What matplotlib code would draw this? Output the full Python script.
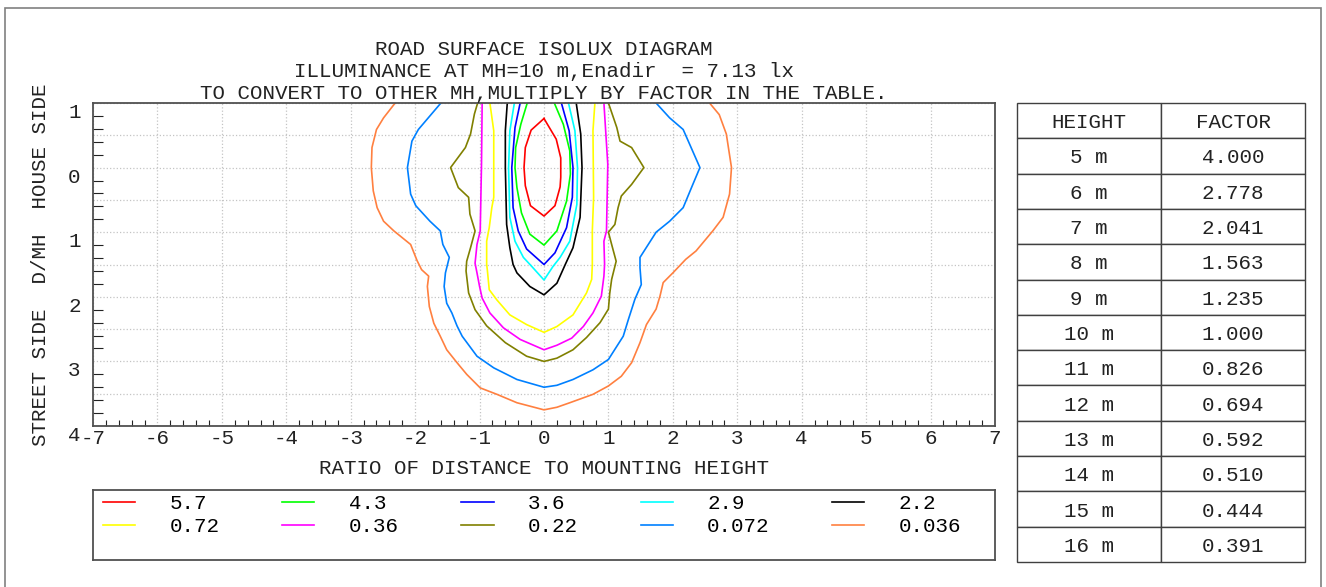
import matplotlib
matplotlib.use('Agg')
import matplotlib.pyplot as plt
from matplotlib.ticker import MultipleLocator
from matplotlib.patches import Rectangle
import numpy as np

plt.rcParams['font.family'] = ['Liberation Mono', 'DejaVu Sans Mono']
plt.rcParams['font.size'] = 15
plt.rcParams['axes.unicode_minus'] = False

# isolux levels (lx) and their line colours
levels = ['5.7', '4.3', '3.6', '2.9', '2.2', '0.72', '0.36', '0.22', '0.072', '0.036']
colors = ['#ff0000', '#00ff00', '#0000ff', '#00ffff', '#000000',
          '#ffff00', '#ff00ff', '#808000', '#0080ff', '#ff8040']

# contour traces (x = D/MH across, y = D/MH along)
red_x = [0.00, -0.20, -0.29, -0.31, -0.29, -0.21, 0.00, 0.17, 0.25, 0.26, 0.26, 0.19, 0.00]
red_y = [0.76, 0.58, 0.31, 0.00, -0.28, -0.59, -0.75, -0.59, -0.30, -0.15, 0.15, 0.44, 0.76]

green_x = [-0.26, -0.36, -0.44, -0.45, -0.42, -0.35, -0.22, 0.00, 0.20, 0.35, 0.41, 0.40, 0.30, 0.16]
green_y = [1.00, 0.67, 0.31, 0.00, -0.31, -0.70, -1.03, -1.20, -0.98, -0.52, -0.10, 0.26, 0.67, 1.00]

blue_x = [-0.37, -0.45, -0.50, -0.48, -0.40, -0.27, 0.00, 0.17, 0.35, 0.44, 0.45, 0.39, 0.27]
blue_y = [1.00, 0.62, 0.00, -0.62, -0.98, -1.26, -1.50, -1.32, -0.93, -0.46, 0.00, 0.57, 1.00]

cyan_x = [-0.46, -0.53, -0.55, -0.53, -0.45, -0.32, -0.19, 0.00, 0.14, 0.25, 0.40, 0.51, 0.52, 0.48, 0.38]
cyan_y = [1.00, 0.57, 0.00, -0.77, -1.14, -1.39, -1.53, -1.74, -1.53, -1.39, -1.14, -0.57, 0.00, 0.57, 1.00]

black_x = [-0.57, -0.60, -0.60, -0.58, -0.53, -0.48, -0.42, -0.22, 0.00, 0.20, 0.33, 0.45,
           0.56, 0.59, 0.57, 0.50]
black_y = [1.00, 0.57, 0.00, -0.88, -1.24, -1.50, -1.63, -1.84, -1.97, -1.79, -1.50, -1.24,
           -0.77, 0.00, 0.52, 1.00]

yellow_x = [-0.84, -0.78, -0.78, -0.81, -0.85, -0.89, -0.89, -0.88, -0.85, -0.73, -0.53, -0.27,
            0.00, 0.20, 0.45, 0.66, 0.74, 0.75, 0.75, 0.77, 0.76, 0.79]
yellow_y = [1.00, 0.57, -0.46, -0.62, -0.93, -1.14, -1.50, -1.58, -1.89, -2.05, -2.28, -2.43,
            -2.55, -2.46, -2.28, -1.94, -1.73, -1.50, -0.98, -0.46, 0.57, 1.00]

magenta_x = [-0.96, -0.97, -0.99, -1.04, -1.07, -1.04, -1.00, -0.96, -0.84, -0.63, -0.37, 0.00,
             0.20, 0.43, 0.61, 0.76, 0.89, 0.93, 0.94, 0.93, 0.97, 0.99, 0.93]
magenta_y = [1.00, 0.05, -0.98, -1.19, -1.48, -1.63, -1.84, -2.02, -2.25, -2.48, -2.66, -2.82,
             -2.75, -2.64, -2.46, -2.25, -1.99, -1.68, -1.50, -1.14, -0.98, 0.05, 1.00]

olive_x = [-1.03, -1.08, -1.14, -1.22, -1.45, -1.33, -1.17, -1.15, -1.07, -1.14, -1.20, -1.21,
           -1.17, -1.07, -0.89, -0.60, -0.27, 0.00, 0.20, 0.45, 0.66, 0.87, 1.00, 1.02, 1.05,
           1.12, 1.05, 1.00, 1.10, 1.15, 1.20, 1.36, 1.55, 1.36, 1.18, 1.13, 1.00]
olive_y = [1.00, 0.83, 0.52, 0.31, 0.00, -0.31, -0.46, -0.72, -0.98, -1.24, -1.45, -1.60,
           -1.94, -2.20, -2.45, -2.71, -2.92, -3.00, -2.95, -2.82, -2.63, -2.40, -2.19, -1.95, -1.73,
           -1.45, -1.19, -1.00, -0.88, -0.62, -0.44, -0.26, 0.00, 0.31, 0.41, 0.62, 1.00]

dblue_x = [-1.60, -1.95, -2.05, -2.12, -2.07, -1.99, -1.77, -1.61, -1.57, -1.47, -1.53, -1.55,
           -1.51, -1.43, -1.35, -1.27, -1.04, -0.78, -0.42, 0.00, 0.20, 0.45, 0.76, 1.00, 1.23,
           1.31, 1.41, 1.51, 1.49, 1.49, 1.74, 1.95, 2.16, 2.31, 2.42, 2.16, 1.95, 1.74]
dblue_y = [1.00, 0.59, 0.41, 0.00, -0.41, -0.59, -0.83, -0.98, -1.19, -1.39, -1.63, -1.84,
           -2.10, -2.25, -2.45, -2.61, -2.92, -3.10, -3.28, -3.40, -3.37, -3.28, -3.13, -2.97, -2.61,
           -2.35, -2.04, -1.81, -1.55, -1.39, -1.00, -0.83, -0.62, -0.26, 0.00, 0.59, 0.77, 1.00]

orange_x = [-2.31, -2.49, -2.60, -2.67, -2.68, -2.65, -2.59, -2.49, -2.33, -2.07, -1.97, -1.90,
            -1.79, -1.81, -1.78, -1.71, -1.61, -1.51, -1.35, -1.20, -0.99, -0.73, -0.42, 0.00,
            0.20, 0.40, 0.76, 1.00, 1.20, 1.36, 1.49, 1.59, 1.74, 1.80, 1.85, 2.00, 2.20, 2.36,
            2.62, 2.78, 2.88, 2.91, 2.83, 2.72, 2.57]
orange_y = [1.00, 0.77, 0.59, 0.31, 0.00, -0.36, -0.62, -0.83, -0.98, -1.19, -1.44, -1.58,
            -1.68, -1.84, -2.15, -2.41, -2.61, -2.82, -3.02, -3.20, -3.41, -3.51, -3.64, -3.75,
            -3.71, -3.64, -3.51, -3.38, -3.23, -3.02, -2.71, -2.43, -2.19, -1.99, -1.78, -1.63,
            -1.42, -1.29, -0.98, -0.77, -0.41, 0.00, 0.52, 0.82, 1.00]

contour_x = [red_x, green_x, blue_x, cyan_x, black_x, yellow_x, magenta_x, olive_x, dblue_x, orange_x]
contour_y = [red_y, green_y, blue_y, cyan_y, black_y, yellow_y, magenta_y, olive_y, dblue_y, orange_y]

# mounting height conversion table
heights = ['5 m', '6 m', '7 m', '8 m', '9 m', '10 m', '11 m', '12 m', '13 m', '14 m', '15 m', '16 m']
factors = ['4.000', '2.778', '2.041', '1.563', '1.235', '1.000', '0.826', '0.694', '0.592',
           '0.510', '0.444', '0.391']

x_ticks = list(range(-7, 8))
x_tick_labels = ['-7', '-6', '-5', '-4', '-3', '-2', '-1', '0', '1', '2', '3', '4', '5', '6', '7']
y_ticks = list(np.arange(-4, 1.01, 0.5))
y_tick_labels = ['4', '', '3', '', '2', '', '1', '', '0', '', '1']

W, H = 1326, 587
fig = plt.figure(figsize=(W / 100, H / 100), dpi=100)

ax = fig.add_axes([93 / W, 161 / H, 902 / W, 323 / H])
lines = []
for xs, ys, c, lev in zip(contour_x, contour_y, colors, levels):
    ln, = ax.plot(xs, ys, color=c, lw=1.2, label=lev)
    lines.append(ln)

ax.set_xlim(-7, 7)
ax.set_ylim(-4, 1)
ax.set_xticks(x_ticks, x_tick_labels)
ax.set_yticks(y_ticks, y_tick_labels, va='top')
ax.xaxis.set_minor_locator(MultipleLocator(0.2))
ax.yaxis.set_minor_locator(MultipleLocator(0.2))
ax.tick_params(which='major', length=0, labelsize=15, colors='#222222')
ax.tick_params(axis='x', which='major', pad=2)
ax.tick_params(axis='y', which='major', pad=9)
ax.tick_params(axis='x', which='minor', direction='in', length=4.3, width=0.8, color='#222222')
ax.tick_params(axis='y', which='minor', direction='in', length=7.2, width=0.8, color='#222222')
ax.grid(True, which='major', color='#c4c4c4', linestyle=':', lw=0.9)
ax.set_axisbelow(True)
for sp in ax.spines.values():
    sp.set_color('#505050')
    sp.set_linewidth(1.3)

ax.set_title('ROAD SURFACE ISOLUX DIAGRAM\n'
             'ILLUMINANCE AT MH=10 m,Enadir  = 7.13 lx\n'
             'TO CONVERT TO OTHER MH,MULTIPLY BY FACTOR IN THE TABLE.',
             fontsize=15, linespacing=1.2, pad=3, color='#222222')
ax.set_xlabel('RATIO OF DISTANCE TO MOUNTING HEIGHT', fontsize=15, labelpad=8, color='#222222')
ax.set_ylabel('STREET SIDE  D/MH  HOUSE SIDE', fontsize=15, color='#222222')
ax.yaxis.set_label_coords(-0.048, 0.5)

# legend box under the diagram, filled row by row
lax = fig.add_axes([93 / W, 27 / H, 902 / W, 70 / H])
lax.set_xticks([])
lax.set_yticks([])
for sp in lax.spines.values():
    sp.set_color('#505050')
    sp.set_linewidth(1.3)
order = [0, 5, 1, 6, 2, 7, 3, 8, 4, 9]
lax.legend([lines[i] for i in order], [levels[i] for i in order], ncol=5, loc='upper left',
           bbox_to_anchor=(10 / 902, 1 - 4 / 70), frameon=False, borderaxespad=0, borderpad=0,
           handlelength=1.55, handletextpad=1.65, columnspacing=3.0, labelspacing=0.2,
           fontsize=15)

# height / factor table
tax = fig.add_axes([1017 / W, 25 / H, 288 / W, 459 / H])
tax.axis('off')
tbl = tax.table(cellText=[[h, f] for h, f in zip(heights, factors)],
                colLabels=['HEIGHT', 'FACTOR'], cellLoc='center', colLoc='center',
                bbox=[0, 0, 1, 1])
tbl.auto_set_font_size(False)
tbl.set_fontsize(15)
for cell in tbl.get_celld().values():
    cell.set_edgecolor('#404040')
    cell.set_linewidth(1.0)
    cell.get_text().set_color('#222222')
    cell.get_text().set_va('center_baseline')

# outer frame of the sheet
fig.add_artist(Rectangle((5 / W, -0.1), (1321 - 5) / W, (H - 8) / H + 0.1,
                         transform=fig.transFigure, fill=False, edgecolor='#808080', lw=1.2))

fig.savefig('out.png', dpi=100)
